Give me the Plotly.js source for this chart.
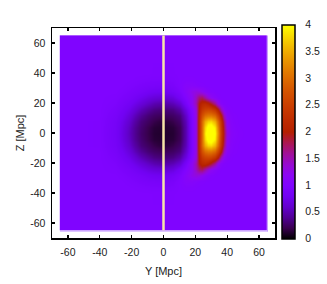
<!DOCTYPE html>
<html><head><meta charset="utf-8">
<script src="https://cdn.plot.ly/plotly-3.0.1.min.js"></script>
<style>html,body{margin:0;padding:0;background:#fff}</style></head>
<body><div id="chart" style="width:327px;height:284px"></div>
<script>
const yMpc=[-64.9,-64.5,-40,-30,-26,-22,-18,-14,-10,-6,-3,0,3,6,10,14,18,20,22,24,26,28,30,32,34,36,38,40,42,44,48,52,64.5,64.9];
const zLevels=[0,4,8,12,16,20,24,28,32,36,40,64.5,64.9];
const row0=[1,1,.99,.85,.72,.55,.39,.27,.19,.13,.12,.12,.12,.13,.21,.5,.98,1.3,2.2,3.0,3.85,4.3,4.4,4.0,3.3,2.5,1.85,1.3,1.1,1.05,1.02,1,1,1];
const row4=[1,1,.99,.86,.73,.57,.4,.29,.2,.14,.13,.12,.13,.14,.22,.5,.98,1.3,2.2,3.0,3.75,4.15,4.2,3.9,3.2,2.45,1.8,1.25,1.08,1.04,1.01,1,1,1];
const row8=[1,1,.99,.87,.76,.61,.45,.32,.25,.19,.16,.15,.16,.19,.27,.53,.98,1.3,2.2,2.95,3.5,3.75,3.8,3.55,3.0,2.35,1.7,1.2,1.06,1.03,1,1,1,1];
const row12=[1,1,1,.9,.81,.68,.53,.4,.31,.26,.24,.23,.24,.26,.33,.6,1.0,1.3,2.15,2.7,3.0,3.1,3.1,2.95,2.55,2.05,1.45,1.12,1.04,1.02,1,1,1,1];
const row16=[1,1,1,.93,.86,.76,.64,.52,.42,.35,.33,.32,.33,.35,.46,.72,1.05,1.35,2.05,2.4,2.55,2.6,2.55,2.35,2.0,1.5,1.15,1.05,1.02,1,1,1,1,1];
const row20=[1,1,1,.96,.91,.84,.75,.66,.57,.5,.47,.46,.48,.52,.64,.9,1.2,1.5,1.95,2.15,2.2,2.1,1.9,1.6,1.25,1.08,1.03,1.01,1,1,1,1,1,1];
const row24=[1,1,1,.98,.95,.91,.85,.78,.71,.67,.65,.64,.66,.7,.85,1.02,1.2,1.45,1.7,1.75,1.55,1.35,1.2,1.1,1.04,1.01,1,1,1,1,1,1,1,1];
const row28=[1,1,1,1,.98,.95,.92,.89,.84,.81,.8,.79,.82,.86,.96,1.1,1.25,1.3,1.28,1.2,1.12,1.06,1.03,1.01,1,1,1,1,1,1,1,1,1,1];
const row32=[1,1,1,1,1,.98,.96,.94,.92,.91,.9,.9,.91,.93,1.0,1.07,1.08,1.05,1.03,1.02,1.01,1,1,1,1,1,1,1,1,1,1,1,1,1];
const row36=[1,1,1,1,1,1,.99,.98,.97,.96,.96,.96,.96,.97,1,1.02,1.02,1.01,1,1,1,1,1,1,1,1,1,1,1,1,1,1,1,1];
const row40=[1,1,1,1,1,1,1,1,1,.99,.99,.99,.99,.99,1,1,1,1,1,1,1,1,1,1,1,1,1,1,1,1,1,1,1,1];
const row64=[1,1,1,1,1,1,1,1,1,1,1,1,1,1,1,1,1,1,1,1,1,1,1,1,1,1,1,1,1,1,1,1,1,1];
const rowEdge=[1,1,1,1,1,1,1,1,1,1,1,1,1,1,1,1,1,1,1,1,1,1,1,1,1,1,1,1,1,1,1,1,1,1];
const halfRows=[row0,row4,row8,row12,row16,row20,row24,row28,row32,row36,row40,row64,rowEdge];
const axisTicks=[-60,-40,-20,0,20,40,60];
const cbTicks=[0,0.5,1,1.5,2,2.5,3,3.5,4];
const cbLabels=["0","0.5","1","1.5","2","2.5","3","3.5","4"];
const lineY=[0,0];
const lineZ=[-65,65];
const palette=["#000000","#39004f","#510096","#6301ce","#7202f3","#8004ff","#8c07f3","#970bce","#a11096","#ab174f","#b42000","#bd2a00","#c63700","#ce4600","#d55700","#dd6c00","#e48300","#eb9d00","#f2ba00","#f9db00","#ffff00"];

const zAll=zLevels.slice(1).reverse().map(v=>-v).concat(zLevels);
const matrix=halfRows.slice(1).reverse().concat(halfRows);
const colorscale=palette.map((c,i)=>[i/(palette.length-1),c]);
const font={family:'"Liberation Sans",Arial,sans-serif',size:10.5,color:'#222'};
const titleFont={family:font.family,size:11,color:'#222'};
const W=327,H=284,L=52,R=275,T=28,B=238;
const pw=R-L,ph=B-T;
const cbL=282,cbR=295,cbT=25,cbB=238.5;
const px=v=>(v-L)/pw, py=v=>(B-v)/ph;
const marks=[
 {type:'line',xref:'x',yref:'y',x0:65.3,x1:65.3,y0:-65.6,y1:65,line:{color:'#c8a0ff',width:1}},
 {type:'line',xref:'x',yref:'y',x0:-65,x1:65.6,y0:-65.4,y1:-65.4,line:{color:'#c8a0ff',width:1}}
];
cbTicks.slice(1,-1).forEach(t=>{
  const yp=cbB-(cbB-cbT)*t/4;
  marks.push({type:'line',xref:'paper',yref:'paper',x0:px(cbL),x1:px(cbL+2.5),y0:py(yp),y1:py(yp),line:{color:'#000',width:1}});
  marks.push({type:'line',xref:'paper',yref:'paper',x0:px(cbR-2.5),x1:px(cbR),y0:py(yp),y1:py(yp),line:{color:'#000',width:1}});
});
const axis=(title,standoff,labelOff)=>({title:{text:title,font:titleFont,standoff:standoff},range:[-70,70],tickvals:axisTicks,ticktext:axisTicks.map(String),
  ticks:'inside',ticklen:3,tickwidth:1.2,tickcolor:'#000',showline:true,linecolor:'#000',linewidth:1.5,mirror:'ticks',
  showgrid:false,zeroline:false,tickfont:font,automargin:false,ticklabelstandoff:labelOff});
Plotly.newPlot('chart',[
 {type:'heatmap',x:yMpc,y:zAll,z:matrix,zmin:0,zmax:4,zsmooth:'best',colorscale:colorscale,
  colorbar:{thicknessmode:'pixels',thickness:cbR-cbL,lenmode:'fraction',len:(cbB-cbT)/ph,xref:'paper',yref:'paper',
   x:px(cbL),xanchor:'left',y:py(cbB),yanchor:'bottom',xpad:0,ypad:0,outlinewidth:1.5,outlinecolor:'#000',borderwidth:0,
   tickvals:cbTicks,ticktext:cbLabels,ticks:'outside',ticklen:8,tickwidth:1,tickcolor:'rgba(0,0,0,0)',tickfont:font}},
 {type:'scatter',mode:'lines',x:lineY,y:lineZ,line:{color:'#f7e6a8',width:2.5},showlegend:false,hoverinfo:'skip'}
],{width:W,height:H,margin:{l:L,r:W-R,t:T,b:H-B,pad:0,autoexpand:false},paper_bgcolor:'#fff',plot_bgcolor:'#fff',font:font,
  xaxis:axis('Y [Mpc]',10,4),yaxis:axis('Z [Mpc]',3,3),shapes:marks,showlegend:false},{displayModeBar:false,staticPlot:true});
</script></body></html>
